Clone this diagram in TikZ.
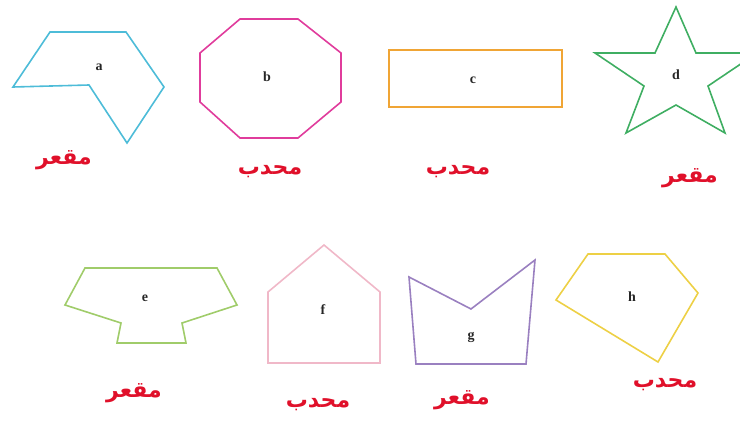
\documentclass[tikz,border=0pt]{standalone}
\usepackage{fontspec}
\setmainfont{Liberation Serif}
\newfontfamily\arabicfont[Script=Arabic]{DejaVu Sans}
\TeXXeTstate=1
\definecolor{ca}{HTML}{4DBCD8}
\definecolor{cb}{HTML}{E03C9C}
\definecolor{cc}{HTML}{F0A535}
\definecolor{cd}{HTML}{3FAE62}
\definecolor{ce}{HTML}{A0CC6A}
\definecolor{cf}{HTML}{F0B8C8}
\definecolor{cg}{HTML}{9A80C0}
\definecolor{ch}{HTML}{EDD045}
\definecolor{hand}{HTML}{E0102A}
\tikzset{
  shp/.style={line width=1.6pt, line join=miter},
  lbl/.style={font=\bfseries\fontsize{14}{14}\selectfont, text=black!85},
  hw/.style={font=\arabicfont\bfseries\fontsize{22}{22}\selectfont, text=hand}
}
\begin{document}
\begin{tikzpicture}[x=1pt,y=-1pt]
\useasboundingbox (0,0) rectangle (740,425);
\clip (0,0) rectangle (740,425);
% a
\draw[shp, ca] (50,32) -- (126,32) -- (164,87) -- (127,143) -- (89,85) -- (13,87) -- cycle;
\node[lbl] (la) at (99,67) {a};
\node[hw] (ta) at (64,160) {\beginR مقعر\endR};
% b
\draw[shp, cb] (240,19) -- (298,19) -- (341,53) -- (341,102) -- (298,138) -- (240,138) -- (200,102) -- (200,53) -- cycle;
\node[lbl] (lb) at (267,77) {b};
\node[hw] (tb) at (270,172) {\beginR محدب\endR};
% c
\draw[shp, cc] (389,50) rectangle (562,107);
\node[lbl] (lc) at (473,80) {c};
\node[hw] (tc) at (458,172) {\beginR محدب\endR};
% d
\draw[shp, cd] (676,7) -- (696,53) -- (757,53) -- (708,86) -- (725,133) -- (676,105) -- (626,133) -- (644,86) -- (595,53) -- (655,53) -- cycle;
\node[lbl] (ld) at (676,75) {d};
\node[hw] (td) at (690,178) {\beginR مقعر\endR};
% e
\draw[shp, ce] (85,268) -- (217,268) -- (237,305) -- (182,323) -- (186,343) -- (117,343) -- (121,323) -- (65,305) -- cycle;
\node[lbl] (le) at (145,298) {e};
\node[hw] (te) at (134,393) {\beginR مقعر\endR};
% f
\draw[shp, cf] (324,245) -- (380,292) -- (380,363) -- (268,363) -- (268,292) -- cycle;
\node[lbl] (lf) at (323,310) {f};
\node[hw] (tf) at (318,405) {\beginR محدب\endR};
% g
\draw[shp, cg] (409,277) -- (471,309) -- (535,260) -- (526,364) -- (416,364) -- cycle;
\node[lbl] (lg) at (471,337) {g};
\node[hw] (tg) at (462,400) {\beginR مقعر\endR};
% h
\draw[shp, ch] (588,254) -- (665,254) -- (698,293) -- (658,362) -- (556,300) -- cycle;
\node[lbl] (lh) at (632,297) {h};
\node[hw] (th) at (665,385) {\beginR محدب\endR};
\end{tikzpicture}
\end{document}
